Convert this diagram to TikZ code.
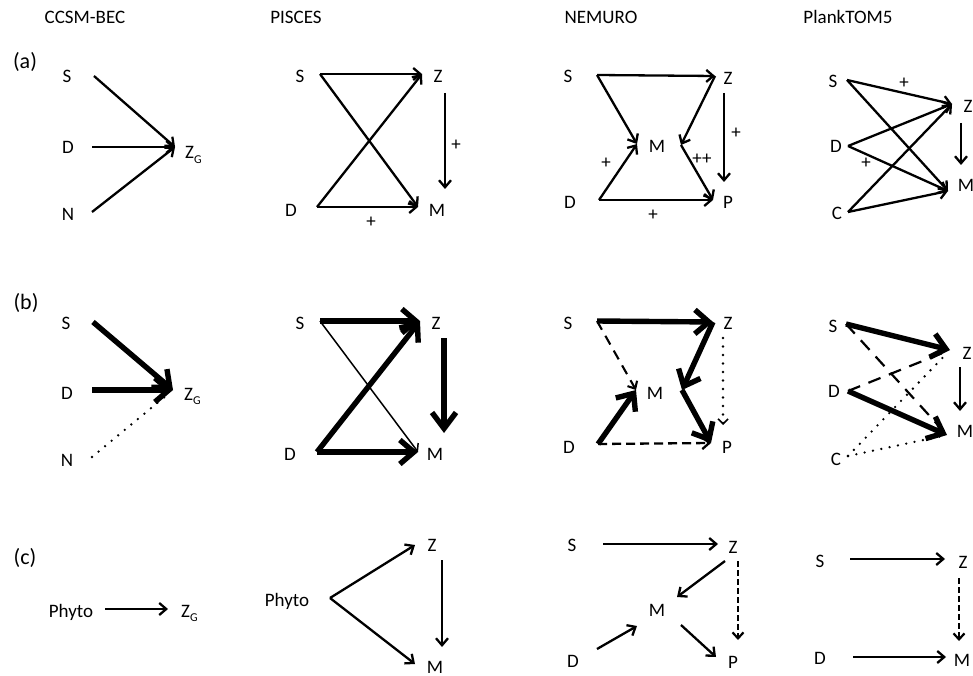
\documentclass[tikz,border=0pt]{standalone}
\usepackage{fontspec}
\setmainfont{Carlito}
\usetikzlibrary{arrows.meta}
\begin{document}
\begin{tikzpicture}[x=1pt,y=-1pt,
  lbl/.style={font=\fontsize{19}{22}\selectfont, inner sep=0pt, anchor=base},
  lblw/.style={lbl, anchor=base west},
  tag/.style={font=\fontsize{22}{26}\selectfont, inner sep=0pt, anchor=base},
  ar/.style={line width=2.3pt, -{Straight Barb[length=7pt,width=12pt]}},
  arf/.style={line width=1.5pt, -{Straight Barb[length=6pt,width=11pt]}},
  tk/.style={line width=5.4pt, -{Straight Barb[length=14pt,width=24pt]}},
  tkv/.style={line width=5.4pt, -{Straight Barb[length=16pt,width=24pt]}},
  dsha/.style={line width=2.1pt, dash pattern=on 10pt off 7pt, -{Straight Barb[length=6pt,width=11pt]}},
  dshb/.style={line width=2.3pt, dash pattern=on 9pt off 5pt, -{Straight Barb[length=7pt,width=12pt]}},
  dshc/.style={line width=2.2pt, dash pattern=on 13pt off 9pt},
  dshd/.style={line width=2.6pt, dash pattern=on 5.5pt off 3.5pt, -{Straight Barb[length=6pt,width=11pt,line width=2.2pt]}},
  dots/.style={line width=2.6pt, line cap=round, dash pattern=on 0pt off 8.5pt},
  dotsar/.style={dots, -{Straight Barb[length=5pt,width=10pt,line width=1.6pt]}}
]
\useasboundingbox (0,0) rectangle (973,676);
\newcommand{\zg}{Z\raisebox{-0.22em}{\fontsize{12}{12}\selectfont G}}

% headers
\node[lbl] (h1) at (85,24) {CCSM-BEC};
\node[lbl] (h2) at (296,24) {PISCES};
\node[lbl] (h3) at (601,24) {NEMURO};
\node[lbl] (h4) at (848,24) {PlankTOM5};
\node[tag] (ta) at (25,69) {(a)};
\node[tag] (tb) at (26,309) {(b)};
\node[tag] (tc) at (25,564) {(c)};

% ================= row (a) =================
% CCSM-BEC
\node[lbl] (a1S) at (67,83) {S};
\node[lbl] (a1D) at (68,154) {D};
\node[lbl] (a1N) at (68,220) {N};
\node[lblw] (a1Z) at (185,159) {\zg};
\coordinate (a1s) at (94,76);
\coordinate (a1d) at (92,147);
\coordinate (a1n) at (92,212);
\coordinate (a1z) at (175,147);
\draw[ar] (a1s) -- (a1z);
\draw[ar] (a1d) -- (a1z);
\draw[ar] (a1n) -- (a1z);

% PISCES
\node[lbl] (a2S) at (300,83) {S};
\node[lbl] (a2Z) at (438,83) {Z};
\node[lbl] (a2D) at (291,216) {D};
\node[lbl] (a2M) at (437,216) {M};
\coordinate (a2s) at (320,74);
\coordinate (a2z) at (422,74);
\coordinate (a2d) at (317,207);
\coordinate (a2m) at (418,207);
\coordinate (a2zv) at (445,93);
\coordinate (a2mv) at (445,189);
\draw[ar] (a2s) -- (a2z);
\draw[ar] (a2s) -- (a2m);
\draw[ar] (a2d) -- (a2z);
\draw[ar] (a2d) -- (a2m);
\draw[ar] (a2zv) -- (a2mv);
\node[lbl] (a2p1) at (456,151) {+};
\node[lbl] (a2p2) at (371,228) {+};

% NEMURO
\node[lbl] (a3S) at (568,83) {S};
\node[lbl] (a3Z) at (728,85) {Z};
\node[lbl] (a3M) at (657,153) {M};
\node[lbl] (a3D) at (570,208) {D};
\node[lbl] (a3P) at (728,208) {P};
\coordinate (a3s) at (597,75);
\coordinate (a3z) at (715,76);
\coordinate (a3ml) at (637,144);
\coordinate (a3mr) at (681,145);
\coordinate (a3d) at (599,200);
\coordinate (a3p) at (713,200);
\coordinate (a3zv) at (724,93);
\coordinate (a3pv) at (724,182);
\draw[ar] (a3s) -- (a3z);
\draw[ar] (a3s) -- (a3ml);
\draw[ar] (a3z) -- (a3mr);
\draw[ar] (a3d) -- (a3ml);
\draw[ar] (a3mr) -- (a3p);
\draw[ar] (a3d) -- (a3p);
\draw[ar] (a3zv) -- (a3pv);
\node[lbl] (a3p1) at (736,139) {+};
\node[lbl] (a3p2) at (606,169) {+};
\node[lbl] (a3p3) at (702,165) {++};
\node[lbl] (a3p4) at (653,221) {+};

% PlankTOM5
\node[lbl] (a4S) at (833,88) {S};
\node[lbl] (a4Z) at (968,113) {Z};
\node[lbl] (a4D) at (836,153) {D};
\node[lbl] (a4M) at (966,192) {M};
\node[lbl] (a4C) at (837,219) {C};
\coordinate (a4s) at (847,80);
\coordinate (a4z) at (952,104);
\coordinate (a4d) at (848,146);
\coordinate (a4m) at (948,191);
\coordinate (a4c) at (848,212);
\coordinate (a4zv) at (961,123);
\coordinate (a4mv) at (961,165);
\draw[ar] (a4s) -- (a4z);
\draw[ar] (a4s) -- (a4m);
\draw[ar] (a4d) -- (a4z);
\draw[ar] (a4d) -- (a4m);
\draw[ar] (a4c) -- (a4z);
\draw[ar] (a4c) -- (a4m);
\draw[ar] (a4zv) -- (a4mv);
\node[lbl] (a4p1) at (904,89) {+};
\node[lbl] (a4p2) at (866,169) {+};

% ================= row (b) =================
% CCSM-BEC
\node[lbl] (b1S) at (66,329) {S};
\node[lbl] (b1D) at (67,399) {D};
\node[lbl] (b1N) at (67,466) {N};
\node[lblw] (b1Z) at (184,400) {\zg};
\coordinate (b1s) at (93,322);
\coordinate (b1d) at (92,390);
\coordinate (b1n) at (92,457);
\coordinate (b1z) at (173,390);
\draw[dots, shorten >=8pt] (b1n) -- (b1z);
\draw[tk] (b1s) -- (b1z);
\draw[tk] (b1d) -- (b1z);

% PISCES
\node[lbl] (b2S) at (300,329) {S};
\node[lbl] (b2Z) at (436,329) {Z};
\node[lbl] (b2D) at (290,460) {D};
\node[lbl] (b2M) at (435,460) {M};
\coordinate (b2s) at (320,321);
\coordinate (b2z) at (420,321);
\coordinate (b2d) at (317,452);
\coordinate (b2m) at (418,452);
\coordinate (b2zv) at (444,338);
\coordinate (b2mv) at (444,433);
\draw[arf] (b2s) -- (b2m);
\draw[tk] (b2s) -- (b2z);
\draw[tk] (b2d) -- (b2z);
\draw[tk] (b2d) -- (b2m);
\draw[tkv] (b2zv) -- (b2mv);

% NEMURO
\node[lbl] (b3S) at (568,329) {S};
\node[lbl] (b3Z) at (728,329) {Z};
\node[lbl] (b3M) at (655,399) {M};
\node[lbl] (b3D) at (569,453) {D};
\node[lbl] (b3P) at (727,453) {P};
\coordinate (b3s) at (597,321);
\coordinate (b3z) at (713,322);
\coordinate (b3ml) at (636,390);
\coordinate (b3mr) at (682,390);
\coordinate (b3d) at (598,444);
\coordinate (b3p) at (711,443);
\coordinate (b3zv) at (723,338);
\coordinate (b3pv) at (723,425);
\draw[dsha] (b3s) -- (b3ml);
\draw[dshb] (b3d) -- (b3p);
\draw[dotsar] (b3zv) -- (b3pv);
\draw[tk] (b3s) -- (b3z);
\draw[tk] (b3z) -- (b3mr);
\draw[tk] (b3d) -- (b3ml);
\draw[tk] (b3mr) -- (b3p);

% PlankTOM5
\node[lbl] (b4S) at (833,332) {S};
\node[lbl] (b4Z) at (967,359) {Z};
\node[lbl] (b4D) at (834,397) {D};
\node[lbl] (b4M) at (965,437) {M};
\node[lbl] (b4C) at (836,465) {C};
\coordinate (b4s) at (846,324);
\coordinate (b4z) at (950,350);
\coordinate (b4d) at (848,391);
\coordinate (b4m) at (947,435);
\coordinate (b4c) at (848,456);
\coordinate (b4zv) at (960,367);
\coordinate (b4mv) at (960,411);
\draw[dshc, shorten >=6pt] (b4s) -- (b4m);
\draw[dshc, shorten >=6pt] (b4d) -- (b4z);
\draw[dots, shorten >=4pt] (b4c) -- (b4z);
\draw[dots, shorten >=4pt] (b4c) -- (b4m);
\draw[tk] (b4s) -- (b4z);
\draw[tk] (b4d) -- (b4m);
\draw[ar] (b4zv) -- (b4mv);

% ================= row (c) =================
% CCSM-BEC
\node[lbl] (c1P) at (71,617) {Phyto};
\node[lblw] (c1Z) at (181,617) {\zg};
\coordinate (c1p) at (105,609);
\coordinate (c1z) at (168,609);
\draw[ar] (c1p) -- (c1z);

% PISCES
\node[lbl] (c2P) at (287,606) {Phyto};
\node[lbl] (c2Z) at (432,551) {Z};
\node[lbl] (c2M) at (435,673) {M};
\coordinate (c2p) at (330,598);
\coordinate (c2z) at (415,545);
\coordinate (c2m) at (415,664);
\coordinate (c2zv) at (442,560);
\coordinate (c2mv) at (442,647);
\draw[ar] (c2p) -- (c2z);
\draw[ar] (c2p) -- (c2m);
\draw[ar] (c2zv) -- (c2mv);

% NEMURO
\node[lbl] (c3S) at (572,551) {S};
\node[lbl] (c3Z) at (733,553) {Z};
\node[lbl] (c3M) at (657,616) {M};
\node[lbl] (c3D) at (573,667) {D};
\node[lbl] (c3P) at (733,668) {P};
\coordinate (c3s) at (603,544);
\coordinate (c3z) at (718,544);
\coordinate (c3zm) at (725,561);
\coordinate (c3mz) at (677,597);
\coordinate (c3d) at (597,649);
\coordinate (c3md) at (637,626);
\coordinate (c3mp) at (681,625);
\coordinate (c3p) at (716,657);
\coordinate (c3zv) at (738,561);
\coordinate (c3pv) at (738,640);
\draw[ar] (c3s) -- (c3z);
\draw[ar] (c3zm) -- (c3mz);
\draw[ar] (c3d) -- (c3md);
\draw[ar] (c3mp) -- (c3p);
\draw[dshd] (c3zv) -- (c3pv);

% PlankTOM5
\node[lbl] (c4S) at (820,567) {S};
\node[lbl] (c4Z) at (963,568) {Z};
\node[lbl] (c4D) at (820,664) {D};
\node[lbl] (c4M) at (962,666) {M};
\coordinate (c4s) at (850,559);
\coordinate (c4z) at (945,559);
\coordinate (c4zv) at (959,578);
\coordinate (c4mv) at (959,641);
\coordinate (c4d) at (853,657);
\coordinate (c4m) at (946,657);
\draw[ar] (c4s) -- (c4z);
\draw[dshd] (c4zv) -- (c4mv);
\draw[ar] (c4d) -- (c4m);
\end{tikzpicture}
\end{document}
